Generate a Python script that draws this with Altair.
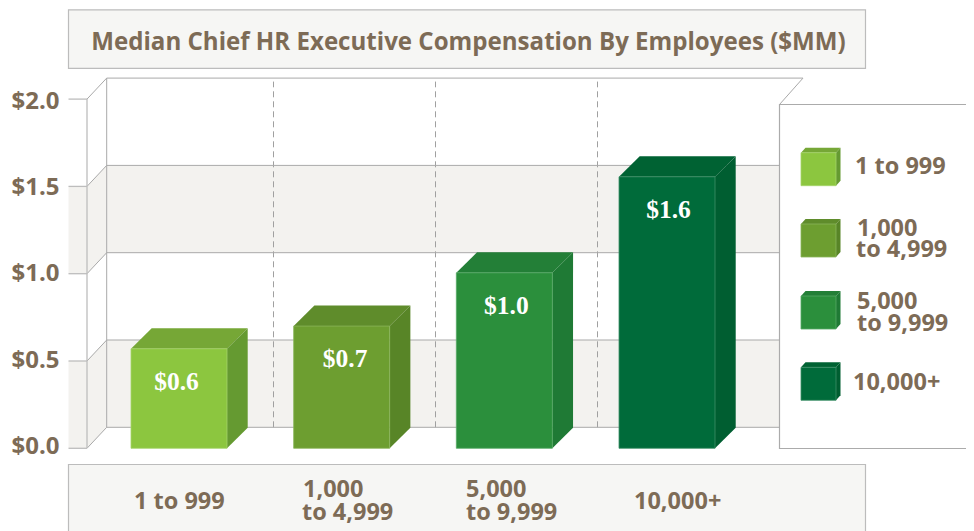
import altair as alt
import pandas as pd

categories = ["1 to 999", "1,000 to 4,999", "5,000 to 9,999", "10,000+"]
values = [0.57, 0.70, 1.005, 1.555]
value_labels = ["$0.6", "$0.7", "$1.0", "$1.6"]
front_colors = ["#8cc63f", "#6d9e30", "#2b8f3c", "#006b3a"]
top_colors = ["#76a736", "#5f8c2b", "#237f37", "#006233"]
side_colors = ["#659a31", "#588527", "#1f7a35", "#005e31"]
edge_colors = ["#a5d36a", "#8ab55a", "#55a865", "#3d8f68"]
y_ticks = [0, 0.5, 1.0, 1.5, 2.0]
y_tick_labels = ["$0.0", "$0.5", "$1.0", "$1.5", "$2.0"]
title_text = "Median Chief HR Executive Compensation By Employees ($MM)"
x_label_lines = [["1 to 999"], ["1,000", "to 4,999"], ["5,000", "to 9,999"], ["10,000+"]]
legend_lines = [["1 to 999"], ["1,000", "to 4,999"], ["5,000", "to 9,999"], ["10,000+"]]

BROWN = "#7d6b56"
SANS = "Open Sans"
Y0, PER_UNIT = 448.3, 174.6
CX0, STEP = 179.0, 162.67
PLOT_LEFT, PLOT_RIGHT = 87.0, 966.0


def X(p):
    return (p - CX0) / STEP


def V(p):
    return (Y0 - p) / PER_UNIT


SX = alt.Scale(domain=[X(PLOT_LEFT), X(PLOT_RIGHT)], nice=False, zero=False)
SY = alt.Scale(domain=[V(531), V(8)], nice=False, zero=False)
xq = alt.X("x:Q", scale=SX, axis=None)
x2q = alt.X2("x2:Q")
yq = alt.Y("y:Q", scale=SY, axis=None)
y2q = alt.Y2("y2:Q")

DX, DV = 20.7 / STEP, 20.5 / PER_UNIT
HALF = 48.0 / STEP
WX, WV = 19.7 / STEP, 21.0 / PER_UNIT
WL = X(87.0)


def para(face, x1, x2, y1lo, y1hi, y2lo, y2hi, color):
    return [
        dict(face=face, x=x1, y=y1hi, y2=y1lo, c=color),
        dict(face=face, x=x2, y=y2hi, y2=y2lo, c=color),
    ]


def top_face(face, xl, xr, vt, dx, dv, color):
    return [
        dict(face=face, x=xl, y=vt, y2=vt, c=color),
        dict(face=face, x=xl + dx, y=vt + dv, y2=vt, c=color),
        dict(face=face, x=xr, y=vt + dv, y2=vt, c=color),
        dict(face=face, x=xr + dx, y=vt + dv, y2=vt + dv, c=color),
    ]


boxes = pd.DataFrame([
    dict(x=X(68.5), x2=X(865.5), y=V(9.8), y2=V(68.3), f="#f6f6f4"),
    dict(x=X(68.5), x2=X(865.5), y=V(464.5), y2=V(540), f="#f6f6f4"),
])
box_layer = alt.Chart(boxes).mark_rect(stroke="#bcbcbc", strokeWidth=1.2).encode(
    x=xq, x2=x2q, y=yq, y2=y2q, fill=alt.Fill("f:N", scale=None))

band_pairs = [(0.0, 0.5), (1.0, 1.5)]
BAND = "#f3f2ef"
band_rects = []
wall_faces = []
for i, (a, b) in enumerate(band_pairs):
    band_rects.append(dict(x=WL + WX, x2=X(785), y=b + WV, y2=a + WV))
    band_rects.append(dict(x=X(68.5), x2=WL, y=b, y2=a))
    wall_faces += para(f"w{i}", WL, WL + WX, a, b, a + WV, b + WV, BAND)
bands = alt.Chart(pd.DataFrame(band_rects)).mark_rect(color=BAND).encode(
    x=xq, x2=x2q, y=yq, y2=y2q)
wall = alt.Chart(pd.DataFrame(wall_faces)).mark_area(orient="vertical").encode(
    x=xq, y=yq, y2=y2q, detail="face:N", fill=alt.Fill("c:N", scale=None))

lines = []
for t in y_ticks:
    lines.append(dict(x=WL, y=t, x2=WL + WX, y2=t + WV))
    xe = X(803) if t == 2.0 else X(780)
    lines.append(dict(x=WL + WX, y=t + WV, x2=xe, y2=t + WV))
lines.append(dict(x=WL + WX, y=V(427.3), x2=WL + WX, y2=2.0 + WV))
lines.append(dict(x=X(803), y=2.0 + WV, x2=X(779.5), y2=V(104.5)))
wall_lines = alt.Chart(pd.DataFrame(lines)).mark_rule(color="#a9a9a9", strokeWidth=1).encode(
    x=xq, x2=x2q, y=yq, y2=y2q)

edge_rows = [dict(x=WL, y=0.0, x2=WL, y2=2.0)]
for t in y_ticks:
    edge_rows.append(dict(x=X(68.5), y=t, x2=WL, y2=t))
front_edge = alt.Chart(pd.DataFrame(edge_rows)).mark_rule(
    color="#bdbdbd", strokeWidth=1.3).encode(x=xq, x2=x2q, y=yq, y2=y2q)

dash_x = [X(273.5), X(435.5), X(597.5)]
dashes = pd.DataFrame(dict(x=dash_x, x2=dash_x, y=[WV] * 3, y2=[2.0 + WV - 0.02] * 3))
dash_layer = alt.Chart(dashes).mark_rule(color="#a0a0a0", strokeWidth=1, strokeDash=[6, 4]).encode(
    x=xq, x2=x2q, y=yq, y2=y2q)

legend_box = alt.Chart(pd.DataFrame([dict(x=X(779.5), x2=X(985), y=V(104.5), y2=V(448.5))])).mark_rect(
    fill="white", stroke="#ababab", strokeWidth=1.2).encode(x=xq, x2=x2q, y=yq, y2=y2q)

front_rows, area_rows = [], []
for i, v in enumerate(values):
    xl, xr = i - HALF, i + HALF
    front_rows.append(dict(x=xl, x2=xr, y=v, y2=0.0, f=front_colors[i], s=edge_colors[i]))
    area_rows += top_face(f"t{i}", xl, xr, v, DX, DV, top_colors[i])
    area_rows += para(f"s{i}", xr, xr + DX, 0.0, v, DV, v + DV, side_colors[i])

sw_tops = [152.7, 224.0, 296.0, 367.3]
SWX0, SWW, SWH, SWD = X(801), 35 / STEP, 33 / PER_UNIT, 4.5
for i, p in enumerate(sw_tops):
    vt = V(p)
    xl, xr = SWX0, SWX0 + SWW
    dx, dv = SWD / STEP, 5.0 / PER_UNIT
    front_rows.append(dict(x=xl, x2=xr, y=vt, y2=vt - SWH, f=front_colors[i], s=edge_colors[i]))
    area_rows += top_face(f"lt{i}", xl, xr, vt, dx, dv, top_colors[i])
    area_rows += para(f"ls{i}", xr, xr + dx, vt - SWH, vt, vt - SWH + dv, vt + dv, side_colors[i])

faces = alt.Chart(pd.DataFrame(area_rows)).mark_area(orient="vertical").encode(
    x=xq, y=yq, y2=y2q, detail="face:N", fill=alt.Fill("c:N", scale=None))
fronts = alt.Chart(pd.DataFrame(front_rows)).mark_rect(strokeWidth=0.8).encode(
    x=xq, x2=x2q, y=yq, y2=y2q,
    fill=alt.Fill("f:N", scale=None), stroke=alt.Stroke("s:N", scale=None))

sans_rows = [dict(x=X(91.3), y=V(49.5), t=title_text, s=24.1)]
x_label_pos = [[(134, 509.3)], [(303, 496.7), (302, 520)], [(466, 496.7), (466, 520)], [(634, 508.5)]]
for lines_i, pos_i in zip(x_label_lines, x_label_pos):
    for t, (a, b) in zip(lines_i, pos_i):
        sans_rows.append(dict(x=X(a), y=V(b), t=t, s=23.5))
legend_pos = [[(855, 174.3)], [(857, 235.7), (856, 256.7)], [(857, 308.7), (857, 330.7)], [(853, 390)]]
for lines_i, pos_i in zip(legend_lines, legend_pos):
    for t, (a, b) in zip(lines_i, pos_i):
        sans_rows.append(dict(x=X(a), y=V(b), t=t, s=23.5))
sans = alt.Chart(pd.DataFrame(sans_rows)).mark_text(
    font=SANS, fontWeight="bold", color=BROWN, align="left", baseline="alphabetic").encode(
    x=xq, y=yq, text="t:N", size=alt.Size("s:Q", scale=None))

tick_baselines = [454.0, 367.7, 281.0, 195.0, 109.3]
tick_df = pd.DataFrame(dict(x=[X(59.5)] * len(y_ticks), y=[V(b) for b in tick_baselines], t=y_tick_labels))
tick_text = alt.Chart(tick_df).mark_text(
    font=SANS, fontWeight="bold", fontSize=24, color=BROWN,
    align="right", baseline="alphabetic").encode(x=xq, y=yq, text="t:N")

label_dx = [-2.5, 3.5, 2.0, 1.5]
val_df = pd.DataFrame(dict(
    x=[i + d / STEP for i, d in enumerate(label_dx)],
    y=[v - 41.0 / PER_UNIT for v in values], t=value_labels))
vals = alt.Chart(val_df).mark_text(
    font="Liberation Serif", fontWeight="bold", fontSize=25.5, color="white",
    align="center", baseline="alphabetic").encode(x=xq, y=yq, text="t:N")

chart = alt.layer(
    box_layer, bands, dash_layer, legend_box, wall, wall_lines, front_edge,
    faces, fronts, sans, tick_text, vals,
).properties(
    width=PLOT_RIGHT - PLOT_LEFT, height=523,
    padding={"left": PLOT_LEFT - 8, "top": 0, "right": 0, "bottom": 0},
    autosize=alt.AutoSizeParams(type="none"), background="white",
).configure_view(stroke=None)

chart.save("out.html", embed_options={"renderer": "svg", "actions": False})
